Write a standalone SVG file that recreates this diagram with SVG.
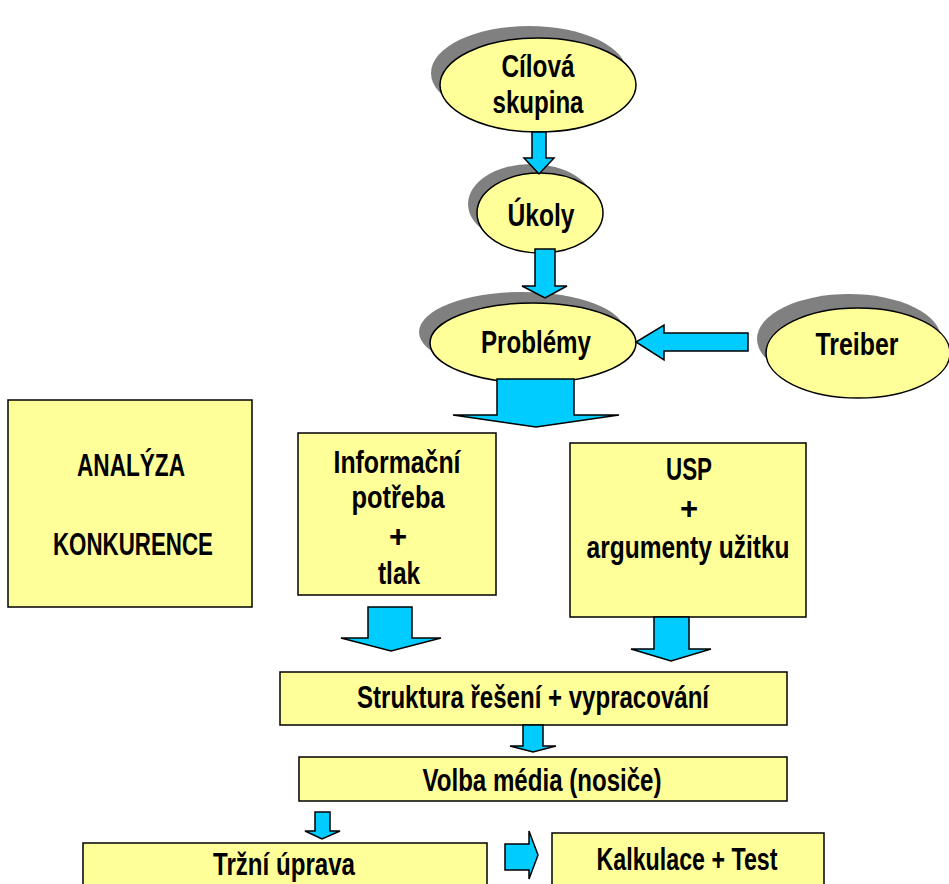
<svg xmlns="http://www.w3.org/2000/svg" width="949" height="884" viewBox="0 0 949 884">
<style>
.box{fill:#FFFF99;stroke:#000;stroke-width:1.5}
.ell{fill:#FFFF99;stroke:#000;stroke-width:1.5}
.sh{fill:#808080}
.arr{fill:#00CCFF;stroke:#000;stroke-width:1.5;stroke-linejoin:miter}
text{font-family:"Liberation Sans",Arial,sans-serif;font-weight:bold;font-size:31px;fill:#000;text-anchor:middle}
</style>
<rect width="949" height="884" fill="#fff"/>
<g id="cilova">
<ellipse class="sh" cx="529" cy="73" rx="98" ry="47"/>
<ellipse class="ell" cx="538" cy="85" rx="98" ry="47"/>
<text x="538" y="77" textLength="73" lengthAdjust="spacingAndGlyphs">Cílová</text>
<text x="538" y="113" textLength="91" lengthAdjust="spacingAndGlyphs">skupina</text>
</g>
<g id="ukoly">
<ellipse class="sh" cx="531" cy="204" rx="63" ry="40"/>
<ellipse class="ell" cx="540" cy="213" rx="63" ry="40"/>
<text x="541" y="226" textLength="67" lengthAdjust="spacingAndGlyphs">Úkoly</text>
</g>
<g id="problemy">
<ellipse class="sh" cx="522" cy="332" rx="103" ry="40"/>
<ellipse class="ell" cx="533" cy="343" rx="103" ry="40"/>
<text x="536" y="353" textLength="110" lengthAdjust="spacingAndGlyphs">Problémy</text>
</g>
<g id="treiber">
<ellipse class="sh" cx="849" cy="339" rx="92" ry="45"/>
<ellipse class="ell" cx="858" cy="353" rx="92" ry="45"/>
<text x="857" y="355" textLength="83" lengthAdjust="spacingAndGlyphs">Treiber</text>
</g>
<g id="analyza">
<rect class="box" x="8" y="400" width="244" height="207"/>
<text x="131" y="476" textLength="108" lengthAdjust="spacingAndGlyphs">ANALÝZA</text>
<text x="133" y="555" textLength="160" lengthAdjust="spacingAndGlyphs">KONKURENCE</text>
</g>
<g id="informacni">
<rect class="box" x="298" y="433" width="198" height="162"/>
<text x="397" y="473" textLength="127" lengthAdjust="spacingAndGlyphs">Informační</text>
<text x="398" y="508" textLength="93" lengthAdjust="spacingAndGlyphs">potřeba</text>
<text x="398" y="547">+</text>
<text x="399" y="584" textLength="42" lengthAdjust="spacingAndGlyphs">tlak</text>
</g>
<g id="usp">
<rect class="box" x="570" y="443" width="236" height="174"/>
<text x="689" y="480" textLength="46" lengthAdjust="spacingAndGlyphs">USP</text>
<text x="689" y="519">+</text>
<text x="688" y="558" textLength="203" lengthAdjust="spacingAndGlyphs">argumenty užitku</text>
</g>
<g id="struktura">
<rect class="box" x="280" y="672" width="507" height="53"/>
<text x="533" y="708" textLength="352" lengthAdjust="spacingAndGlyphs">Struktura řešení + vypracování</text>
</g>
<g id="volba">
<rect class="box" x="299" y="757" width="488" height="44"/>
<text x="542" y="791" textLength="239" lengthAdjust="spacingAndGlyphs">Volba média (nosiče)</text>
</g>
<g id="trzni">
<rect class="box" x="83" y="843" width="404" height="60"/>
<text x="284" y="875" textLength="142" lengthAdjust="spacingAndGlyphs">Tržní úprava</text>
</g>
<g id="kalkulace">
<rect class="box" x="552" y="833" width="272" height="70"/>
<text x="687" y="870" textLength="181" lengthAdjust="spacingAndGlyphs">Kalkulace + Test</text>
</g>
<g id="connectors">
<polygon class="arr" points="532,132 546,132 546,158 554,158 539,174 524,158 532,158"/>
<polygon class="arr" points="535,249 555,249 555,286 567,286 545,298 522,286 535,286"/>
<polygon class="arr" points="748,333 664,333 664,325 636,342 664,360 664,351 748,351"/>
<polygon class="arr" points="497,379 574,379 574,415 619,415 536,427 453,415 497,415"/>
<polygon class="arr" points="368,607 412,607 412,638 441,638 391,651 341,638 368,638"/>
<polygon class="arr" points="654,617 689,617 689,649 711,649 671,661 631,649 654,649"/>
<polygon class="arr" points="523,725 543,725 543,746 556,746 533,752 510,746 523,746"/>
<polygon class="arr" points="315,812 330,812 330,831 340,831 322,839 305,831 315,831"/>
<polygon class="arr" points="505,844 529,844 529,831 538,855 529,879 529,870 505,870"/>
</g>
</svg>
